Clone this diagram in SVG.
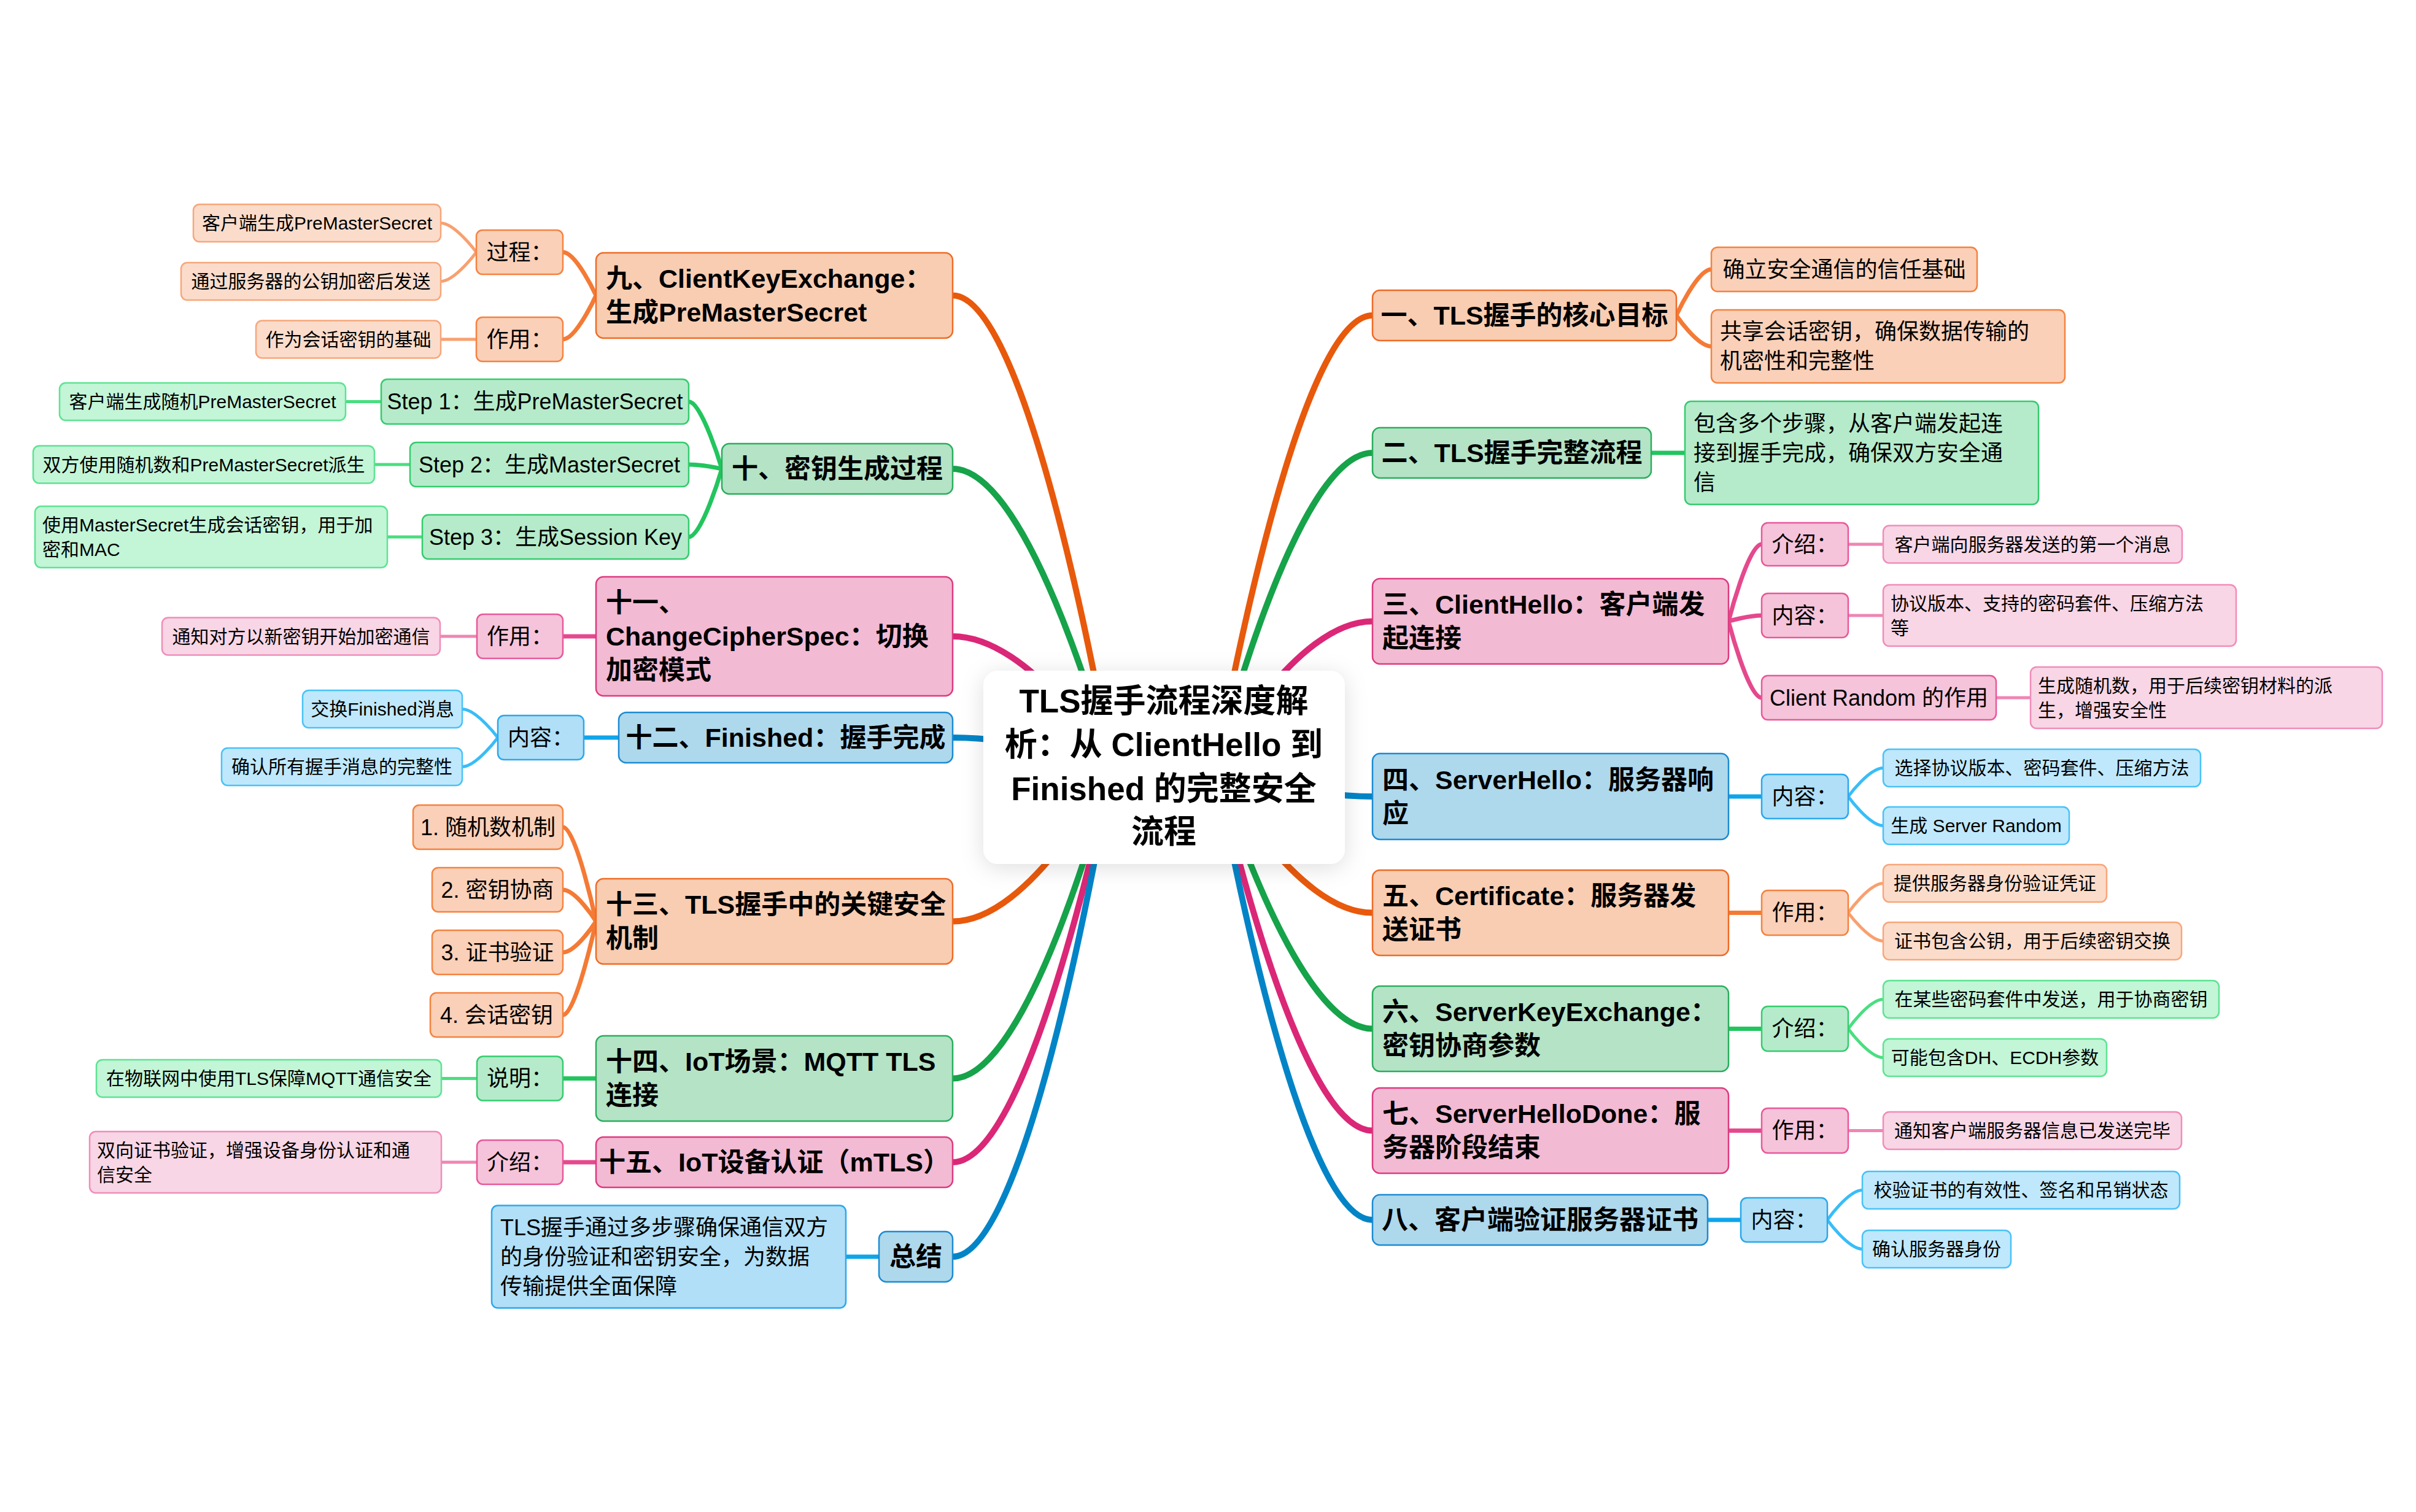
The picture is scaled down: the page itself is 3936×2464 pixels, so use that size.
<svg xmlns="http://www.w3.org/2000/svg" width="3936" height="2464" viewBox="0 0 3936 2464">
<defs>
<filter id="sh" x="-20%" y="-20%" width="140%" height="140%"><feDropShadow dx="0" dy="6" stdDeviation="18" flood-color="#000" flood-opacity="0.13"/></filter>
<style>
text{font-family:'Liberation Sans','Noto Sans CJK SC',sans-serif;fill:#000;dominant-baseline:central}
.c{text-anchor:middle}
.root{font-size:53px;font-weight:700}
.t1{font-size:43px;font-weight:700}
.t2{font-size:36px}
.t3{font-size:30px}
rect{stroke-width:2.5}
.r1{rx:12px}.r2{rx:10px}.r3{rx:10px}
.o1{fill:#F8CDB2;stroke:#EE6B26}.o2{fill:#FAD0B8;stroke:#F5823F}.o3{fill:#FBDCCB;stroke:#F8A67A}
.g1{fill:#B4E3C6;stroke:#2AAE5C}.g2{fill:#B5EBCA;stroke:#34CC6E}.g3{fill:#C3F5D7;stroke:#5EE392}
.p1{fill:#F2BAD3;stroke:#DD3A80}.p2{fill:#F5C4DA;stroke:#E8589A}.p3{fill:#F8D6E5;stroke:#F08DBA}
.b1{fill:#AED8EC;stroke:#1B8BD2}.b2{fill:#B0DFF7;stroke:#2BA8EC}.b3{fill:#BFE8FC;stroke:#49C2F7}
path{fill:none;stroke-linecap:round}
.m{stroke-width:10}.s{stroke-width:7}.f{stroke-width:5}
.mo{stroke:#E8590C}.mg{stroke:#16A34A}.mp{stroke:#DB2777}.mb{stroke:#0284C7}
.so{stroke:#F47A35}.sg{stroke:#22C55E}.sp{stroke:#E5498D}.sb{stroke:#0EA5E9}
.fo{stroke:#F8A070}.fg{stroke:#4ADE80}.fp{stroke:#EE86B4}.fb{stroke:#38BDF8}
</style>
</defs>
<rect width="3936" height="2464" fill="#fff"/>
<g id="connectors">
<path class="m mo" d="M1981,1250 C1981,1250 2108.5,514 2236,514"/>
<path class="m mg" d="M1981,1250 C1981,1250 2108.5,738 2236,738"/>
<path class="m mp" d="M1981,1250 C1981,1250 2108.5,1012.5 2236,1012.5"/>
<path class="m mb" d="M1981,1250 C1981,1250 2108.5,1298 2236,1298"/>
<path class="m mo" d="M1981,1250 C1981,1250 2108.5,1487.5 2236,1487.5"/>
<path class="m mg" d="M1981,1250 C1981,1250 2108.5,1676.5 2236,1676.5"/>
<path class="m mp" d="M1981,1250 C1981,1250 2108.5,1842.5 2236,1842.5"/>
<path class="m mb" d="M1981,1250 C1981,1250 2108.5,1988 2236,1988"/>
<path class="m mo" d="M1811,1250 C1811,1250 1681.5,481.5 1552,481.5"/>
<path class="m mg" d="M1811,1250 C1811,1250 1681.5,764 1552,764"/>
<path class="m mp" d="M1811,1250 C1811,1250 1681.5,1037 1552,1037"/>
<path class="m mb" d="M1811,1250 C1811,1250 1681.5,1202 1552,1202"/>
<path class="m mo" d="M1811,1250 C1811,1250 1681.5,1501.5 1552,1501.5"/>
<path class="m mg" d="M1811,1250 C1811,1250 1681.5,1757.5 1552,1757.5"/>
<path class="m mp" d="M1811,1250 C1811,1250 1681.5,1894 1552,1894"/>
<path class="m mb" d="M1811,1250 C1811,1250 1681.5,2048 1552,2048"/>
<path class="s so" d="M2731,514 C2731,514 2765,439 2788,439"/>
<path class="s so" d="M2731,514 C2731,514 2765,564.5 2788,564.5"/>
<path class="s sg" d="M2690,738 L2745,738"/>
<path class="s sp" d="M2816,1012.5 C2816,1012.5 2848,887 2870,887"/>
<path class="s sp" d="M2816,1012.5 C2816,1012.5 2848,1003 2870,1003"/>
<path class="s sp" d="M2816,1012.5 C2816,1012.5 2848,1137 2870,1137"/>
<path class="s sb" d="M2816,1298 L2870,1298"/>
<path class="s so" d="M2816,1487.5 L2870,1487.5"/>
<path class="s sg" d="M2816,1676.5 L2870,1676.5"/>
<path class="s sp" d="M2816,1842.5 L2870,1842.5"/>
<path class="s sb" d="M2782,1988 L2836,1988"/>
<path class="f fp" d="M3011,887 L3068,887"/>
<path class="f fp" d="M3011,1003 L3068,1003"/>
<path class="f fp" d="M3252,1137 L3308,1137"/>
<path class="f fb" d="M3011,1298 C3011,1298 3045,1251.5 3068,1251.5"/>
<path class="f fb" d="M3011,1298 C3011,1298 3045,1345.5 3068,1345.5"/>
<path class="f fo" d="M3011,1487.5 C3011,1487.5 3045,1439.5 3068,1439.5"/>
<path class="f fo" d="M3011,1487.5 C3011,1487.5 3045,1533.5 3068,1533.5"/>
<path class="f fg" d="M3011,1676.5 C3011,1676.5 3045,1628.5 3068,1628.5"/>
<path class="f fg" d="M3011,1676.5 C3011,1676.5 3045,1723.5 3068,1723.5"/>
<path class="f fp" d="M3011,1842.5 L3068,1842.5"/>
<path class="f fb" d="M2977,1988 C2977,1988 3011,1939.5 3034,1939.5"/>
<path class="f fb" d="M2977,1988 C2977,1988 3011,2035.5 3034,2035.5"/>
<path class="s so" d="M971,481.5 C971,481.5 938.6,411 917,411"/>
<path class="s so" d="M971,481.5 C971,481.5 938.6,553 917,553"/>
<path class="s sg" d="M1176,764 C1176,764 1143.6,654.5 1122,654.5"/>
<path class="s sg" d="M1176,764 C1176,764 1143.6,757 1122,757"/>
<path class="s sg" d="M1176,764 C1176,764 1143.6,875 1122,875"/>
<path class="s sp" d="M971,1037 L917,1037"/>
<path class="s sb" d="M1008,1202 L951,1202"/>
<path class="s so" d="M971,1501.5 C971,1501.5 938.6,1348 917,1348"/>
<path class="s so" d="M971,1501.5 C971,1501.5 938.6,1450 917,1450"/>
<path class="s so" d="M971,1501.5 C971,1501.5 938.6,1552 917,1552"/>
<path class="s so" d="M971,1501.5 C971,1501.5 938.6,1654 917,1654"/>
<path class="s sg" d="M971,1757.5 L917,1757.5"/>
<path class="s sp" d="M971,1894 L917,1894"/>
<path class="s sb" d="M1432,2048 L1378,2048"/>
<path class="f fo" d="M776,411 C776,411 741,363.5 718,363.5"/>
<path class="f fo" d="M776,411 C776,411 741,458.5 718,458.5"/>
<path class="f fo" d="M776,553 L718,553"/>
<path class="f fg" d="M621,654.5 L563,654.5"/>
<path class="f fg" d="M668,757 L610,757"/>
<path class="f fg" d="M688,875 L631,875"/>
<path class="f fp" d="M777,1037 L717,1037"/>
<path class="f fb" d="M811,1202 C811,1202 776,1155.5 753,1155.5"/>
<path class="f fb" d="M811,1202 C811,1202 776,1249.5 753,1249.5"/>
<path class="f fg" d="M777,1757.5 L719,1757.5"/>
<path class="f fp" d="M777,1894 L719,1894"/>
</g>
<g id="root">
<rect x="1602" y="1093" width="589" height="315" rx="24" fill="#fff" stroke="none" filter="url(#sh)"/>
<text class="root c" x="1896" y="1142">TLS握手流程深度解</text>
<text class="root c" x="1896" y="1213">析：从 ClientHello 到</text>
<text class="root c" x="1896" y="1285">Finished 的完整安全</text>
<text class="root c" x="1896" y="1355">流程</text>
</g>
<g id="n1"><rect class="o1 r1" x="2236" y="473" width="495" height="82"/><text class="t1 c" x="2483.5" y="514">一、TLS握手的核心目标</text></g>
<g id="n1a"><rect class="o2 r2" x="2788" y="403" width="433" height="72"/><text class="t2 c" x="3004.5" y="439">确立安全通信的信任基础</text></g>
<g id="n1b"><rect class="o2 r2" x="2788" y="505" width="576" height="119"/><text class="t2" x="2802" y="540.5">共享会话密钥，确保数据传输的</text><text class="t2" x="2802" y="588.5">机密性和完整性</text></g>
<g id="n2"><rect class="g1 r1" x="2236" y="697" width="454" height="82"/><text class="t1 c" x="2463" y="738">二、TLS握手完整流程</text></g>
<g id="n2a"><rect class="g2 r2" x="2745" y="654" width="576" height="168"/><text class="t2" x="2759" y="690">包含多个步骤，从客户端发起连</text><text class="t2" x="2759" y="738">接到握手完成，确保双方安全通</text><text class="t2" x="2759" y="786">信</text></g>
<g id="n3"><rect class="p1 r1" x="2236" y="943" width="580" height="139"/><text class="t1" x="2252" y="985">三、ClientHello：客户端发</text><text class="t1" x="2252" y="1040">起连接</text></g>
<g id="n3a"><rect class="p2 r2" x="2870" y="852" width="141" height="70"/><text class="t2 c" x="2940.5" y="887">介绍：</text></g>
<g id="n3a1"><rect class="p3 r3" x="3068" y="856.5" width="487" height="61"/><text class="t3 c" x="3311.5" y="887">客户端向服务器发送的第一个消息</text></g>
<g id="n3b"><rect class="p2 r2" x="2870" y="967" width="141" height="72"/><text class="t2 c" x="2940.5" y="1003">内容：</text></g>
<g id="n3b1"><rect class="p3 r3" x="3068" y="953" width="575" height="100"/><text class="t3" x="3080" y="983">协议版本、支持的密码套件、压缩方法</text><text class="t3" x="3080" y="1023">等</text></g>
<g id="n3c"><rect class="p2 r2" x="2870" y="1101" width="382" height="72"/><text class="t2 c" x="3061" y="1137">Client Random 的作用</text></g>
<g id="n3c1"><rect class="p3 r3" x="3308" y="1087" width="573" height="100"/><text class="t3" x="3320" y="1117">生成随机数，用于后续密钥材料的派</text><text class="t3" x="3320" y="1157">生，增强安全性</text></g>
<g id="n4"><rect class="b1 r1" x="2236" y="1228" width="580" height="140"/><text class="t1" x="2252" y="1270.5">四、ServerHello：服务器响</text><text class="t1" x="2252" y="1325.5">应</text></g>
<g id="n4a"><rect class="b2 r2" x="2870" y="1262" width="141" height="72"/><text class="t2 c" x="2940.5" y="1298">内容：</text></g>
<g id="n4a1"><rect class="b3 r3" x="3068" y="1221" width="517" height="61"/><text class="t3 c" x="3326.5" y="1251.5">选择协议版本、密码套件、压缩方法</text></g>
<g id="n4a2"><rect class="b3 r3" x="3068" y="1315" width="303" height="61"/><text class="t3 c" x="3219.5" y="1345.5">生成 Server Random</text></g>
<g id="n5"><rect class="o1 r1" x="2236" y="1418" width="580" height="139"/><text class="t1" x="2252" y="1460">五、Certificate：服务器发</text><text class="t1" x="2252" y="1515">送证书</text></g>
<g id="n5a"><rect class="o2 r2" x="2870" y="1451" width="141" height="73"/><text class="t2 c" x="2940.5" y="1487.5">作用：</text></g>
<g id="n5a1"><rect class="o3 r3" x="3068" y="1409" width="364" height="61"/><text class="t3 c" x="3250" y="1439.5">提供服务器身份验证凭证</text></g>
<g id="n5a2"><rect class="o3 r3" x="3068" y="1503" width="486" height="61"/><text class="t3 c" x="3311" y="1533.5">证书包含公钥，用于后续密钥交换</text></g>
<g id="n6"><rect class="g1 r1" x="2236" y="1607" width="580" height="139"/><text class="t1" x="2252" y="1649">六、ServerKeyExchange：</text><text class="t1" x="2252" y="1704">密钥协商参数</text></g>
<g id="n6a"><rect class="g2 r2" x="2870" y="1640" width="141" height="73"/><text class="t2 c" x="2940.5" y="1676.5">介绍：</text></g>
<g id="n6a1"><rect class="g3 r3" x="3068" y="1598" width="547" height="61"/><text class="t3 c" x="3341.5" y="1628.5">在某些密码套件中发送，用于协商密钥</text></g>
<g id="n6a2"><rect class="g3 r3" x="3068" y="1693" width="364" height="61"/><text class="t3 c" x="3250" y="1723.5">可能包含DH、ECDH参数</text></g>
<g id="n7"><rect class="p1 r1" x="2236" y="1773" width="580" height="139"/><text class="t1" x="2252" y="1815">七、ServerHelloDone：服</text><text class="t1" x="2252" y="1870">务器阶段结束</text></g>
<g id="n7a"><rect class="p2 r2" x="2870" y="1806" width="141" height="73"/><text class="t2 c" x="2940.5" y="1842.5">作用：</text></g>
<g id="n7a1"><rect class="p3 r3" x="3068" y="1812" width="486" height="61"/><text class="t3 c" x="3311" y="1842.5">通知客户端服务器信息已发送完毕</text></g>
<g id="n8"><rect class="b1 r1" x="2236" y="1947" width="546" height="82"/><text class="t1 c" x="2509" y="1988">八、客户端验证服务器证书</text></g>
<g id="n8a"><rect class="b2 r2" x="2836" y="1952" width="141" height="72"/><text class="t2 c" x="2906.5" y="1988">内容：</text></g>
<g id="n8a1"><rect class="b3 r3" x="3034" y="1909" width="517" height="61"/><text class="t3 c" x="3292.5" y="1939.5">校验证书的有效性、签名和吊销状态</text></g>
<g id="n8a2"><rect class="b3 r3" x="3034" y="2005" width="242" height="61"/><text class="t3 c" x="3155" y="2035.5">确认服务器身份</text></g>
<g id="n9"><rect class="o1 r1" x="971" y="412" width="581" height="139"/><text class="t1" x="987" y="454">九、ClientKeyExchange：</text><text class="t1" x="987" y="509">生成PreMasterSecret</text></g>
<g id="n9a"><rect class="o2 r2" x="776" y="375" width="141" height="72"/><text class="t2 c" x="846.5" y="411">过程：</text></g>
<g id="n9a1"><rect class="o3 r3" x="315" y="333" width="403" height="61"/><text class="t3 c" x="516.5" y="363.5">客户端生成PreMasterSecret</text></g>
<g id="n9a2"><rect class="o3 r3" x="295" y="428" width="423" height="61"/><text class="t3 c" x="506.5" y="458.5">通过服务器的公钥加密后发送</text></g>
<g id="n9b"><rect class="o2 r2" x="776" y="517" width="141" height="72"/><text class="t2 c" x="846.5" y="553">作用：</text></g>
<g id="n9b1"><rect class="o3 r3" x="417" y="522.5" width="301" height="61"/><text class="t3 c" x="567.5" y="553">作为会话密钥的基础</text></g>
<g id="n10"><rect class="g1 r1" x="1176" y="723" width="376" height="82"/><text class="t1 c" x="1364" y="764">十、密钥生成过程</text></g>
<g id="n10a"><rect class="g2 r2" x="621" y="618" width="501" height="73"/><text class="t2 c" x="871.5" y="654.5">Step 1：生成PreMasterSecret</text></g>
<g id="n10a1"><rect class="g3 r3" x="97" y="624" width="466" height="61"/><text class="t3 c" x="330" y="654.5">客户端生成随机PreMasterSecret</text></g>
<g id="n10b"><rect class="g2 r2" x="668" y="721" width="454" height="72"/><text class="t2 c" x="895" y="757">Step 2：生成MasterSecret</text></g>
<g id="n10b1"><rect class="g3 r3" x="54" y="726.5" width="556" height="61"/><text class="t3 c" x="332" y="757">双方使用随机数和PreMasterSecret派生</text></g>
<g id="n10c"><rect class="g2 r2" x="688" y="839" width="434" height="72"/><text class="t2 c" x="905" y="875">Step 3：生成Session Key</text></g>
<g id="n10c1"><rect class="g3 r3" x="57" y="825" width="574" height="100"/><text class="t3" x="69" y="855">使用MasterSecret生成会话密钥，用于加</text><text class="t3" x="69" y="895">密和MAC</text></g>
<g id="n11"><rect class="p1 r1" x="971" y="940" width="581" height="194"/><text class="t1" x="987" y="982">十一、</text><text class="t1" x="987" y="1037">ChangeCipherSpec：切换</text><text class="t1" x="987" y="1092">加密模式</text></g>
<g id="n11a"><rect class="p2 r2" x="777" y="1001" width="140" height="72"/><text class="t2 c" x="847" y="1037">作用：</text></g>
<g id="n11a1"><rect class="p3 r3" x="264" y="1006.5" width="453" height="61"/><text class="t3 c" x="490.5" y="1037">通知对方以新密钥开始加密通信</text></g>
<g id="n12"><rect class="b1 r1" x="1008" y="1161" width="544" height="82"/><text class="t1 c" x="1280" y="1202">十二、Finished：握手完成</text></g>
<g id="n12a"><rect class="b2 r2" x="811" y="1166" width="140" height="72"/><text class="t2 c" x="881" y="1202">内容：</text></g>
<g id="n12a1"><rect class="b3 r3" x="493" y="1125" width="260" height="61"/><text class="t3 c" x="623" y="1155.5">交换Finished消息</text></g>
<g id="n12a2"><rect class="b3 r3" x="361" y="1219" width="392" height="61"/><text class="t3 c" x="557" y="1249.5">确认所有握手消息的完整性</text></g>
<g id="n13"><rect class="o1 r1" x="971" y="1432" width="581" height="139"/><text class="t1" x="987" y="1474">十三、TLS握手中的关键安全</text><text class="t1" x="987" y="1529">机制</text></g>
<g id="n13a"><rect class="o2 r2" x="673" y="1312" width="244" height="72"/><text class="t2 c" x="795" y="1348">1. 随机数机制</text></g>
<g id="n13b"><rect class="o2 r2" x="704" y="1414" width="213" height="72"/><text class="t2 c" x="810.5" y="1450">2. 密钥协商</text></g>
<g id="n13c"><rect class="o2 r2" x="704" y="1516" width="213" height="72"/><text class="t2 c" x="810.5" y="1552">3. 证书验证</text></g>
<g id="n13d"><rect class="o2 r2" x="701" y="1618" width="216" height="72"/><text class="t2 c" x="809" y="1654">4. 会话密钥</text></g>
<g id="n14"><rect class="g1 r1" x="971" y="1688" width="581" height="139"/><text class="t1" x="987" y="1730">十四、IoT场景：MQTT TLS</text><text class="t1" x="987" y="1785">连接</text></g>
<g id="n14a"><rect class="g2 r2" x="777" y="1721.5" width="140" height="72"/><text class="t2 c" x="847" y="1757.5">说明：</text></g>
<g id="n14a1"><rect class="g3 r3" x="157" y="1727" width="562" height="61"/><text class="t3 c" x="438" y="1757.5">在物联网中使用TLS保障MQTT通信安全</text></g>
<g id="n15"><rect class="p1 r1" x="971" y="1853" width="581" height="82"/><text class="t1 c" x="1261.5" y="1894">十五、IoT设备认证（mTLS）</text></g>
<g id="n15a"><rect class="p2 r2" x="777" y="1858" width="140" height="72"/><text class="t2 c" x="847" y="1894">介绍：</text></g>
<g id="n15a1"><rect class="p3 r3" x="146" y="1844" width="573" height="100"/><text class="t3" x="158" y="1874">双向证书验证，增强设备身份认证和通</text><text class="t3" x="158" y="1914">信安全</text></g>
<g id="n16"><rect class="b1 r1" x="1432" y="2007" width="120" height="82"/><text class="t1 c" x="1492" y="2048">总结</text></g>
<g id="n16a"><rect class="b2 r2" x="801" y="1964.5" width="577" height="167"/><text class="t2" x="815" y="2000.5">TLS握手通过多步骤确保通信双方</text><text class="t2" x="815" y="2048.5">的身份验证和密钥安全，为数据</text><text class="t2" x="815" y="2096.5">传输提供全面保障</text></g>
</svg>
